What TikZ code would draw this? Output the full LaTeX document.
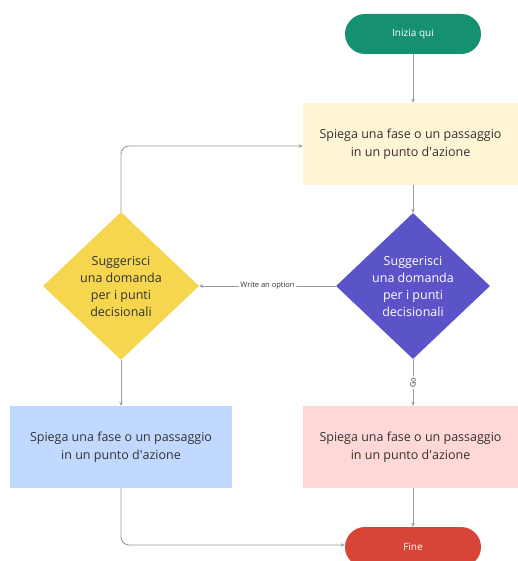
\documentclass[tikz,border=0pt]{standalone}
\usepackage{fontspec}
\setmainfont{Open Sans}
\usetikzlibrary{shapes.geometric,shapes.misc,arrows.meta}
\definecolor{cgreen}{RGB}{22,145,112}
\definecolor{ccream}{RGB}{255,244,212}
\definecolor{cpurple}{RGB}{90,84,200}
\definecolor{cyellow}{RGB}{245,214,78}
\definecolor{cblue}{RGB}{194,217,255}
\definecolor{cpink}{RGB}{255,215,214}
\definecolor{cred}{RGB}{216,68,55}
\definecolor{cline}{RGB}{155,155,155}
\definecolor{ctext}{RGB}{50,50,50}
\begin{document}
\begin{tikzpicture}[x=1pt,y=-1pt,
  pill/.style={rounded rectangle,minimum width=136pt,minimum height=40pt,text=white,font=\fontsize{10}{12}\selectfont,inner sep=0pt},
  box/.style={rectangle,minimum height=82pt,align=center,text=ctext,font=\fontsize{12.5}{18}\selectfont,inner sep=0pt},
  dia/.style={diamond,aspect=1.06,inner sep=0pt,align=center,text=white,font=\fontsize{12.5}{17}\selectfont},
  conn/.style={draw=cline,line width=0.9pt,-{Stealth[length=4pt,width=3.5pt]},rounded corners=8pt},
  lab/.style={fill=white,inner sep=1.5pt,font=\fontsize{7.5}{9}\selectfont,text=ctext}]
\useasboundingbox (0,0) rectangle (518,561);
\clip (0,0) rectangle (518,561);
\fill[white] (0,0) rectangle (518,561);
\node[pill,fill=cgreen] (start) at (413,34) {Inizia qui};
\node[box,fill=ccream,minimum width=215pt] (s1) at (410.5,144) {Spiega una fase o un passaggio\\in un punto d\textquotesingle azione};
\node[dia,fill=cpurple,minimum width=154pt,minimum height=146pt] (d1) at (413,286) {Suggerisci\\una domanda\\per i punti\\decisionali};
\node[dia,fill=cyellow,text=ctext,minimum width=156pt,minimum height=148pt] (d2) at (121,286) {Suggerisci\\una domanda\\per i punti\\decisionali};
\node[box,fill=cblue,minimum width=222pt] (s2) at (121,447) {Spiega una fase o un passaggio\\in un punto d\textquotesingle azione};
\node[box,fill=cpink,minimum width=215pt] (s3) at (410.5,447) {Spiega una fase o un passaggio\\in un punto d\textquotesingle azione};
\node[pill,fill=cred] (fine) at (413,547) {Fine};
\coordinate (c1) at (121,146);
\coordinate (c2) at (121,545);
\draw[conn] (start.south) -- (start.south |- s1.north);
\draw[conn] (s1.south -| d1.north) -- (d1.north);
\draw[conn] (d1.west) -- node[lab] {Write an option} (d2.east);
\draw[conn] (d2.north) -- (c1) -- (c1 -| s1.west);
\draw[conn] (d1.south) -- node[lab,rotate=90] {Go} (d1.south |- s3.north);
\draw[conn] (d2.south) -- (d2.south |- s2.north);
\draw[conn] (s3.south -| fine.north) -- (fine.north);
\draw[conn] (s2.south) -- (c2) -- (c2 -| fine.west);
\end{tikzpicture}
\end{document}
